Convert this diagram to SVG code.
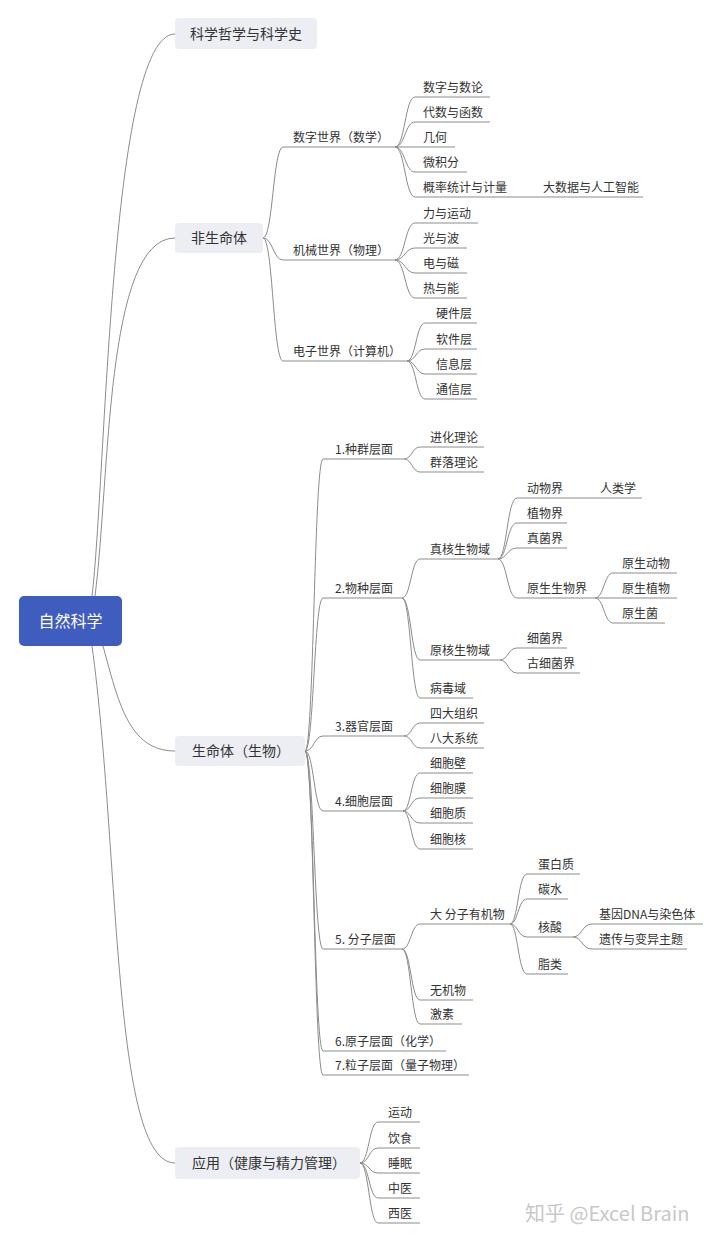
<svg xmlns="http://www.w3.org/2000/svg" width="720" height="1241" viewBox="0 0 720 1241">
<style>
text{font-family:"Noto Sans CJK SC","Noto Sans",sans-serif;fill:#333;}
.t{font-size:12px;}
.b{font-size:14px;text-anchor:middle;}
.u,.c{fill:none;stroke:#8c8c8c;stroke-width:1;}
.box{fill:#eceef3;}
</style>
<rect width="720" height="1241" fill="#fff"/>
<g id="connectors">
<path class="c" d="M92,596 C106,480 110,34 175,34"/>
<path class="c" d="M95,596 C110,480 105,238 175,238"/>
<path class="c" d="M103,646 C118,700 128,751 175,751"/>
<path class="c" d="M92,646 C120,850 112,1163 175,1163"/>
<path class="c" d="M263,238 C273,238 273,147 283,147"/>
<path class="c" d="M263,238 C273,238 273,260 283,260"/>
<path class="c" d="M263,238 C273,238 273,361 283,361"/>
<path class="c" d="M395,147 C405,147 405,97 415,97"/>
<path class="c" d="M395,147 C405,147 405,122 415,122"/>
<path class="c" d="M395,147 L415,147"/>
<path class="c" d="M395,147 C405,147 405,172 415,172"/>
<path class="c" d="M395,147 C405,147 405,197 415,197"/>
<path class="c" d="M505,197 L520,197"/>
<path class="c" d="M395,260 C405,260 405,223 415,223"/>
<path class="c" d="M395,260 C405,260 405,248 415,248"/>
<path class="c" d="M395,260 C405,260 405,273 415,273"/>
<path class="c" d="M395,260 C405,260 405,298 415,298"/>
<path class="c" d="M407,361 C416,361 416,323 425,323"/>
<path class="c" d="M407,361 C416,361 416,349 425,349"/>
<path class="c" d="M407,361 C416,361 416,374 425,374"/>
<path class="c" d="M407,361 C416,361 416,399 425,399"/>
<path class="c" d="M305,751 C314,751 314,459 323,459"/>
<path class="c" d="M305,751 C314,751 314,598 323,598"/>
<path class="c" d="M305,751 C314,751 314,736 323,736"/>
<path class="c" d="M305,751 C314,751 314,811 323,811"/>
<path class="c" d="M305,751 C314,751 314,949 323,949"/>
<path class="c" d="M305,751 C314,751 314,1051 323,1051"/>
<path class="c" d="M305,751 C314,751 314,1075 323,1075"/>
<path class="c" d="M404,459 C412,459 412,447 420,447"/>
<path class="c" d="M404,459 C412,459 412,472 420,472"/>
<path class="c" d="M402,598 C411,598 411,559 420,559"/>
<path class="c" d="M402,598 C411,598 411,660 420,660"/>
<path class="c" d="M402,598 C411,598 411,698 420,698"/>
<path class="c" d="M498,559 C507,559 507,498 517,498"/>
<path class="c" d="M498,559 C507,559 507,523 517,523"/>
<path class="c" d="M498,559 C507,559 507,548 517,548"/>
<path class="c" d="M498,559 C507,559 507,598 517,598"/>
<path class="c" d="M595,498 L600,498"/>
<path class="c" d="M595,598 C604,598 604,573 613,573"/>
<path class="c" d="M595,598 L613,598"/>
<path class="c" d="M595,598 C604,598 604,623 613,623"/>
<path class="c" d="M500,660 C508,660 508,648 517,648"/>
<path class="c" d="M500,660 C508,660 508,673 517,673"/>
<path class="c" d="M404,736 C412,736 412,723 420,723"/>
<path class="c" d="M404,736 C412,736 412,748 420,748"/>
<path class="c" d="M403,811 C411,811 411,773 420,773"/>
<path class="c" d="M403,811 C411,811 411,798 420,798"/>
<path class="c" d="M403,811 C411,811 411,823 420,823"/>
<path class="c" d="M403,811 C411,811 411,849 420,849"/>
<path class="c" d="M402,949 C411,949 411,924 420,924"/>
<path class="c" d="M402,949 C411,949 411,1000 420,1000"/>
<path class="c" d="M402,949 C411,949 411,1024 420,1024"/>
<path class="c" d="M510,924 C518,924 518,874 527,874"/>
<path class="c" d="M510,924 C518,924 518,899 527,899"/>
<path class="c" d="M510,924 C518,924 518,937 527,937"/>
<path class="c" d="M510,924 C518,924 518,974 527,974"/>
<path class="c" d="M573,937 C582,937 582,924 592,924"/>
<path class="c" d="M573,937 C582,937 582,949 592,949"/>
<path class="c" d="M360,1163 C369,1163 369,1122 378,1122"/>
<path class="c" d="M360,1163 C369,1163 369,1148 378,1148"/>
<path class="c" d="M360,1163 C369,1163 369,1173 378,1173"/>
<path class="c" d="M360,1163 C369,1163 369,1198 378,1198"/>
<path class="c" d="M360,1163 C369,1163 369,1223 378,1223"/>
</g>
<g id="root"><rect x="19" y="596" width="103" height="50" rx="5" fill="#3f5cbf"/><text x="70.5" y="627" style="font-size:16px;fill:#fff;text-anchor:middle">自然科学</text></g>
<g id="n-kxzx"><rect class="box" x="175" y="18" width="142" height="31" rx="4"/><text class="b" x="246" y="39">科学哲学与科学史</text></g>
<g id="n-fsmt"><rect class="box" x="175" y="223" width="88" height="30" rx="4"/><text class="b" x="219" y="243">非生命体</text></g>
<g id="n-smt"><rect class="box" x="175" y="736" width="130" height="30" rx="4"/><text class="b" x="241" y="756">生命体（生物）</text></g>
<g id="n-yy"><rect class="box" x="175" y="1147" width="185" height="32" rx="4"/><text class="b" x="269" y="1168">应用（健康与精力管理）</text></g>
<g id="n-sxsj"><text class="t" x="293" y="142">数字世界（数学）</text><path class="u" d="M283,147 H395"/></g>
<g id="n-sxsl"><text class="t" x="423" y="92">数字与数论</text><path class="u" d="M415,97 H490"/></g>
<g id="n-dshs"><text class="t" x="423" y="117">代数与函数</text><path class="u" d="M415,122 H490"/></g>
<g id="n-jh"><text class="t" x="423" y="142">几何</text><path class="u" d="M415,147 H455"/></g>
<g id="n-wjf"><text class="t" x="423" y="167">微积分</text><path class="u" d="M415,172 H467"/></g>
<g id="n-gltj"><text class="t" x="423" y="192">概率统计与计量</text><path class="u" d="M415,197 H505"/></g>
<g id="n-dsj"><text class="t" x="543" y="192">大数据与人工智能</text><path class="u" d="M520,197 H643"/></g>
<g id="n-jxsj"><text class="t" x="293" y="255">机械世界（物理）</text><path class="u" d="M283,260 H395"/></g>
<g id="n-lyyd"><text class="t" x="423" y="218">力与运动</text><path class="u" d="M415,223 H478"/></g>
<g id="n-gyb"><text class="t" x="423" y="243">光与波</text><path class="u" d="M415,248 H467"/></g>
<g id="n-dyc"><text class="t" x="423" y="268">电与磁</text><path class="u" d="M415,273 H467"/></g>
<g id="n-ryn"><text class="t" x="423" y="293">热与能</text><path class="u" d="M415,298 H467"/></g>
<g id="n-dzsj"><text class="t" x="293" y="356">电子世界（计算机）</text><path class="u" d="M283,361 H407"/></g>
<g id="n-yjc"><text class="t" x="436" y="318">硬件层</text><path class="u" d="M425,323 H477"/></g>
<g id="n-rjc"><text class="t" x="436" y="344">软件层</text><path class="u" d="M425,349 H477"/></g>
<g id="n-xxc"><text class="t" x="436" y="369">信息层</text><path class="u" d="M425,374 H477"/></g>
<g id="n-txc"><text class="t" x="436" y="394">通信层</text><path class="u" d="M425,399 H477"/></g>
<g id="n-zq"><text class="t" x="335" y="454">1.种群层面</text><path class="u" d="M323,459 H404"/></g>
<g id="n-jhll"><text class="t" x="430" y="442">进化理论</text><path class="u" d="M420,447 H484"/></g>
<g id="n-qlll"><text class="t" x="430" y="467">群落理论</text><path class="u" d="M420,472 H484"/></g>
<g id="n-wz"><text class="t" x="335" y="593">2.物种层面</text><path class="u" d="M323,598 H402"/></g>
<g id="n-zhsw"><text class="t" x="430" y="554">真核生物域</text><path class="u" d="M420,559 H498"/></g>
<g id="n-dwj"><text class="t" x="527" y="493">动物界</text><path class="u" d="M517,498 H595"/></g>
<g id="n-rlx"><text class="t" x="600" y="493">人类学</text><path class="u" d="M600,498 H642"/></g>
<g id="n-zwj"><text class="t" x="527" y="518">植物界</text><path class="u" d="M517,523 H567"/></g>
<g id="n-zjj"><text class="t" x="527" y="543">真菌界</text><path class="u" d="M517,548 H567"/></g>
<g id="n-yssw"><text class="t" x="527" y="593">原生生物界</text><path class="u" d="M517,598 H595"/></g>
<g id="n-ysdw"><text class="t" x="622" y="568">原生动物</text><path class="u" d="M613,573 H677"/></g>
<g id="n-yszw"><text class="t" x="622" y="593">原生植物</text><path class="u" d="M613,598 H677"/></g>
<g id="n-ysj"><text class="t" x="622" y="618">原生菌</text><path class="u" d="M613,623 H665"/></g>
<g id="n-yhsw"><text class="t" x="430" y="655">原核生物域</text><path class="u" d="M420,660 H500"/></g>
<g id="n-xjj"><text class="t" x="527" y="643">细菌界</text><path class="u" d="M517,648 H567"/></g>
<g id="n-gxjj"><text class="t" x="527" y="668">古细菌界</text><path class="u" d="M517,673 H580"/></g>
<g id="n-bdy"><text class="t" x="430" y="693">病毒域</text><path class="u" d="M420,698 H473"/></g>
<g id="n-qg"><text class="t" x="335" y="731">3.器官层面</text><path class="u" d="M323,736 H404"/></g>
<g id="n-sdzz"><text class="t" x="430" y="718">四大组织</text><path class="u" d="M420,723 H484"/></g>
<g id="n-bdxt"><text class="t" x="430" y="743">八大系统</text><path class="u" d="M420,748 H484"/></g>
<g id="n-xb"><text class="t" x="335" y="806">4.细胞层面</text><path class="u" d="M323,811 H403"/></g>
<g id="n-xbb"><text class="t" x="430" y="768">细胞壁</text><path class="u" d="M420,773 H473"/></g>
<g id="n-xbm"><text class="t" x="430" y="793">细胞膜</text><path class="u" d="M420,798 H473"/></g>
<g id="n-xbz"><text class="t" x="430" y="818">细胞质</text><path class="u" d="M420,823 H473"/></g>
<g id="n-xbh"><text class="t" x="430" y="844">细胞核</text><path class="u" d="M420,849 H473"/></g>
<g id="n-fz"><text class="t" x="335" y="944">5. 分子层面</text><path class="u" d="M323,949 H402"/></g>
<g id="n-dfz"><text class="t" x="430" y="919">大 分子有机物</text><path class="u" d="M420,924 H510"/></g>
<g id="n-dbz"><text class="t" x="538" y="869">蛋白质</text><path class="u" d="M527,874 H580"/></g>
<g id="n-ts"><text class="t" x="538" y="894">碳水</text><path class="u" d="M527,899 H568"/></g>
<g id="n-hs"><text class="t" x="538" y="932">核酸</text><path class="u" d="M527,937 H573"/></g>
<g id="n-jydna"><text class="t" x="599" y="919">基因DNA与染色体</text><path class="u" d="M592,924 H703"/></g>
<g id="n-ycby"><text class="t" x="599" y="944">遗传与变异主题</text><path class="u" d="M592,949 H687"/></g>
<g id="n-zl"><text class="t" x="538" y="969">脂类</text><path class="u" d="M527,974 H568"/></g>
<g id="n-wjw"><text class="t" x="430" y="995">无机物</text><path class="u" d="M420,1000 H473"/></g>
<g id="n-js"><text class="t" x="430" y="1019">激素</text><path class="u" d="M420,1024 H462"/></g>
<g id="n-yz"><text class="t" x="335" y="1046">6.原子层面（化学）</text><path class="u" d="M323,1051 H446"/></g>
<g id="n-lz"><text class="t" x="335" y="1070">7.粒子层面（量子物理）</text><path class="u" d="M323,1075 H469"/></g>
<g id="n-yd"><text class="t" x="388" y="1117">运动</text><path class="u" d="M378,1122 H420"/></g>
<g id="n-ys"><text class="t" x="388" y="1143">饮食</text><path class="u" d="M378,1148 H420"/></g>
<g id="n-sm"><text class="t" x="388" y="1168">睡眠</text><path class="u" d="M378,1173 H420"/></g>
<g id="n-zy"><text class="t" x="388" y="1193">中医</text><path class="u" d="M378,1198 H420"/></g>
<g id="n-xy"><text class="t" x="388" y="1218">西医</text><path class="u" d="M378,1223 H420"/></g>
<text x="525" y="1221" style="font-size:20px;fill:#c8c8c8">知乎 @Excel Brain</text>
</svg>
